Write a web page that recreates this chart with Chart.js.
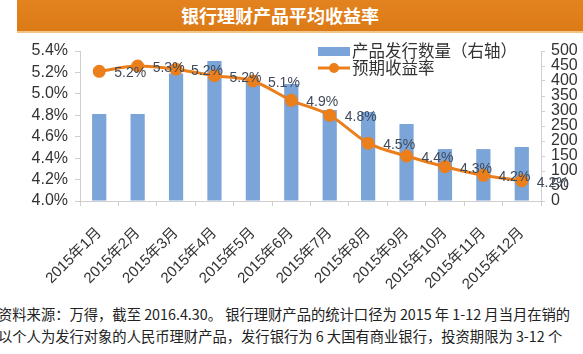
<!DOCTYPE html>
<html>
<head>
<meta charset="utf-8">
<script src="https://cdn.jsdelivr.net/npm/chart.js@4.4.1/dist/chart.umd.min.js"></script>
<style>
  html, body { margin: 0; padding: 0; background: #fff; }
  body { width: 583px; height: 354px; position: relative; overflow: hidden;
         font-family: "Liberation Sans", "Noto Sans CJK SC", sans-serif; }
  #banner { position: absolute; left: 17px; top: 0; width: 566px; height: 31px;
            background: linear-gradient(#e3831f, #dc7a16); border-bottom: 2px solid #f3c48a;
            color: #fff; font: bold 18px "Noto Sans CJK SC", sans-serif;
            text-align: center; line-height: 31px; text-indent: -40px; }
  #wrap { position: absolute; left: 0; top: 32px; width: 583px; height: 262px; }
  #note { position: absolute; left: -2px; top: 303px; width: 600px; white-space: nowrap;
          font: 14.3px "Noto Sans CJK SC", sans-serif; color: #222; line-height: 22px; }
</style>
</head>
<body>
<div id="banner">银行理财产品平均收益率</div>
<div id="wrap"><canvas id="chart"></canvas></div>
<div id="note">资料来源：万得，截至 2016.4.30。 银行理财产品的统计口径为 2015 年 1-12 月当月在销的<br>以个人为发行对象的人民币理财产品，发行银行为 6 大国有商业银行，投资期限为 3-12 个</div>
<script>
// data
const months = ['2015年1月', '2015年2月', '2015年3月', '2015年4月', '2015年5月', '2015年6月',
                '2015年7月', '2015年8月', '2015年9月', '2015年10月', '2015年11月', '2015年12月'];
const issuedCount = [290, 290, 425, 467, 400, 390, 303, 297, 257, 173, 173, 180];
const expectedYield = [5.21, 5.26, 5.23, 5.17, 5.12, 4.94, 4.80, 4.54, 4.42, 4.32, 4.24, 4.19];
const yieldTicks = [4.0, 5.4, 0.2];   // min, max, step
const countTicks = [0, 500, 50];

const barColor = '#7ba4d8';
const lineColor = '#ea7f1c';
const axisColor = '#cfcfcf';
const textColor = '#333';

// value labels to the right of each point
const pointLabels = {
    id: 'pointLabels',
    afterDatasetsDraw(chart) {
        const ctx = chart.ctx;
        const meta = chart.getDatasetMeta(0);
        ctx.save();
        ctx.font = '14px "Liberation Sans", sans-serif';
        ctx.fillStyle = '#3f4a5a';
        ctx.textAlign = 'center';
        ctx.textBaseline = 'middle';
        meta.data.forEach((pt, i) => {
            ctx.fillText(expectedYield[i].toFixed(1) + '%', pt.x + 31, pt.y + 2);
        });
        ctx.restore();
    }
};

// legend in the upper right of the plot
const innerLegend = {
    id: 'innerLegend',
    afterDraw(chart) {
        const ctx = chart.ctx;
        ctx.save();
        ctx.font = '16.5px "Noto Sans CJK SC", sans-serif';
        ctx.textBaseline = 'middle';
        ctx.fillStyle = barColor;
        ctx.fillRect(318, 15, 32, 9);
        ctx.fillStyle = textColor;
        ctx.fillText('产品发行数量（右轴）', 352, 19);
        ctx.strokeStyle = lineColor;
        ctx.lineWidth = 3;
        ctx.beginPath();
        ctx.moveTo(318, 36);
        ctx.lineTo(350, 36);
        ctx.stroke();
        ctx.fillStyle = lineColor;
        ctx.beginPath();
        ctx.arc(334, 36, 5, 0, Math.PI * 2);
        ctx.fill();
        ctx.fillStyle = textColor;
        ctx.fillText('预期收益率', 352, 36);
        ctx.restore();
    }
};

const ctx = document.getElementById('chart').getContext('2d');
new Chart(ctx, {
    data: {
        labels: months,
        datasets: [{
            type: 'line',
            label: '预期收益率',
            data: expectedYield,
            yAxisID: 'y',
            borderColor: lineColor,
            backgroundColor: lineColor,
            borderWidth: 3,
            pointRadius: 5,
            pointHoverRadius: 5,
            cubicInterpolationMode: 'monotone',
            order: 0,
        }, {
            type: 'bar',
            label: '产品发行数量（右轴）',
            data: issuedCount,
            yAxisID: 'y1',
            backgroundColor: barColor,
            barPercentage: 0.37,
            categoryPercentage: 1,
            order: 1,
        }]
    },
    options: {
        responsive: true,
        maintainAspectRatio: false,
        animation: false,
        layout: { padding: { top: 19, left: 0, right: 0, bottom: 0 } },
        plugins: {
            legend: { display: false },
            tooltip: { enabled: false },
        },
        scales: {
            x: {
                offset: true,
                grid: { display: true, drawOnChartArea: false, color: axisColor, tickLength: 5, offset: true },
                border: { color: axisColor },
                ticks: {
                    color: textColor,
                    font: { size: 15, family: '"Liberation Sans", "Noto Sans CJK SC", sans-serif' },
                    minRotation: 45,
                    maxRotation: 45,
                    autoSkip: false,
                    padding: 18,
                },
                afterFit(scale) { scale.height = 93; }
            },
            y: {
                position: 'left',
                min: yieldTicks[0],
                max: yieldTicks[1],
                grid: { drawOnChartArea: false, color: axisColor, tickLength: 5 },
                border: { color: axisColor },
                ticks: {
                    stepSize: yieldTicks[2],
                    color: textColor,
                    font: { size: 16, family: '"Liberation Sans", sans-serif' },
                    padding: 7,
                    autoSkip: false,
                    callback: v => v.toFixed(1) + '%',
                },
                afterFit(scale) { scale.width = 80; }
            },
            y1: {
                position: 'right',
                min: countTicks[0],
                max: countTicks[1],
                grid: { drawOnChartArea: false, color: axisColor, tickLength: 4 },
                border: { color: axisColor },
                ticks: {
                    stepSize: countTicks[2],
                    color: textColor,
                    font: { size: 16, family: '"Liberation Sans", sans-serif' },
                    padding: 6,
                    autoSkip: false,
                },
                afterFit(scale) { scale.width = 42; }
            }
        }
    },
    plugins: [pointLabels, innerLegend]
});
</script>
</body>
</html>
